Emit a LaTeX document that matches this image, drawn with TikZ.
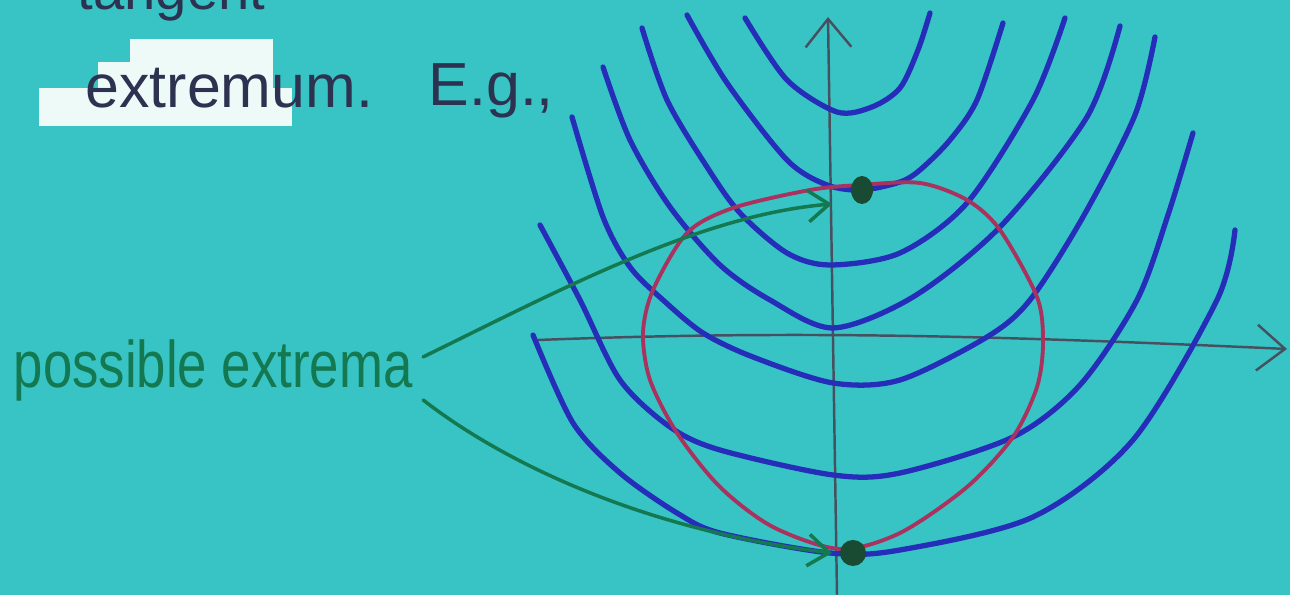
\documentclass[tikz,border=0pt]{standalone}
\usepackage{fontspec}
\setmainfont{Liberation Sans}
\usetikzlibrary{arrows.meta}
\definecolor{paper}{RGB}{56,196,196}
\definecolor{ink}{RGB}{45,50,80}
\definecolor{pen}{RGB}{38,45,185}
\definecolor{rim}{RGB}{170,50,95}
\definecolor{marker}{RGB}{20,120,80}
\definecolor{pencil}{RGB}{70,80,95}
\definecolor{dotc}{RGB}{25,75,50}
\definecolor{patch}{RGB}{238,250,248}
\tikzset{
  level/.style={pen,line width=1.5pt,line cap=round},
  axis/.style={pencil,line width=0.7pt,->},
  pointer/.style={marker,line width=1pt,line cap=round,-{Straight Barb[length=6pt,width=9pt]}},
  hand/.style={inner sep=0pt,anchor=base west},
}
\begin{document}
\begin{tikzpicture}[x=0.01cm,y=-0.01cm,>={Straight Barb[length=8pt,width=13pt]}]
            \useasboundingbox (0,0) rectangle (1290,595);
            \clip (0,0) rectangle (1290,595);
            \fill[paper] (0,0) rectangle (1290,595);
%
            % paper patches
            \fill[patch] (130,39) rectangle (273,117);
            \fill[patch] (98,62) rectangle (131,88);
            \fill[patch] (39,88) rectangle (292,126);
%
            % text
            \node[hand,ink,font=\fontsize{16}{19}\selectfont] (tangent) at (77,10) {tangent};
            \node[hand,ink,font=\fontsize{17.3}{20}\selectfont] (extremum) at (85,108) {extremum.};
            \node[hand,ink,font=\fontsize{17.3}{20}\selectfont] (eg) at (428,106) {E.g.,};
            \node[hand,marker,font=\fontsize{15}{18}\selectfont] (extrema) at (13,388) {\scalebox{1}[1.25]{possible extrema}};
%
            % axes
            \draw[axis] (837,595) -- (828,17);
            \draw[axis] (538,340) .. controls (800,330) and (1000,336) .. (1287,349);
%
            % level curves
            \draw[level] plot[smooth] coordinates {(745,18) (787,80) (837,112) (872,107) (900,88) (918,50) (930,13)};
            \draw[level] plot[smooth] coordinates {(687,15) (727,83) (787,160) (827,185) (862,190) (900,182) (920,170) (950,140) (977,100) (1003,23)};
            \draw[level] plot[smooth] coordinates {(642,28) (667,100) (707,167) (740,213) (787,253) (830,265) (900,253) (967,203) (1033,100) (1065,18)};
            \draw[level] plot[smooth] coordinates {(603,67) (630,140) (670,207) (720,265) (770,300) (833,328) (913,297) (1000,227) (1087,117) (1120,26)};
            \draw[level] plot[smooth] coordinates {(572,117) (603,217) (630,267) (663,300) (703,333) (753,357) (833,383) (900,380) (987,337) (1030,300) (1083,217) (1135,115) (1155,37)};
            \draw[level] plot[smooth] coordinates {(540,225) (580,300) (620,380) (670,427) (720,450) (833,475) (900,473) (1013,437) (1080,385) (1137,300) (1168,215) (1193,133)};
            \draw[level] plot[smooth] coordinates {(533,335) (573,423) (620,473) (677,513) (720,533) (830,553) (900,550) (1033,517) (1133,440) (1217,300) (1235,230)};
%
            % constraint
            \draw[rim,line width=1.1pt] plot[smooth cycle] coordinates {(860,185) (920,183) (967,200) (1000,230) (1037,297) (1043,343) (1037,387) (1013,437) (967,487) (900,533) (840,549) (773,527) (720,487) (677,433) (650,380) (643,333) (653,290) (687,233) (733,208) (810,190)};
%
            % extrema
            \fill[dotc] (862,190) ellipse [x radius=11, y radius=14];
            \fill[dotc] (853,553) circle [radius=13];
            \coordinate (upper) at (832,204);
            \coordinate (lower) at (832,553);
            \draw[pointer] ([xshift=1mm,yshift=1.4mm]extrema.east) .. controls (560,290) and (700,215) .. (upper);
            \draw[pointer] ([xshift=1mm,yshift=-2.9mm]extrema.east) .. controls (500,460) and (640,530) .. (lower);
        \end{tikzpicture}
\end{document}
